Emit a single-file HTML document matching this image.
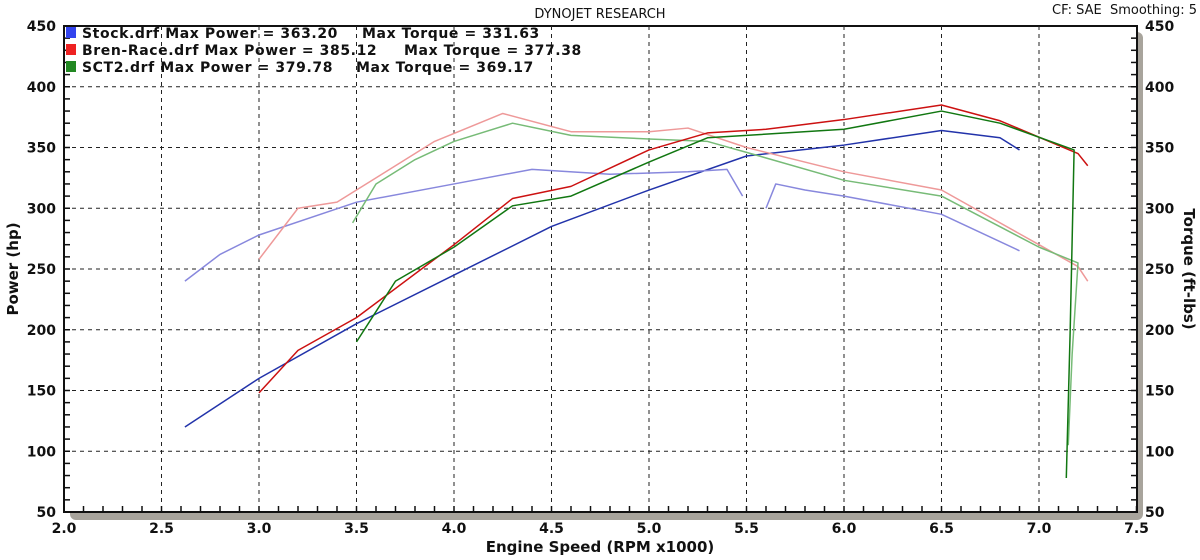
<!DOCTYPE html><html><head><style>
body{margin:0;background:#fff;width:1200px;height:555px;overflow:hidden}
svg text{font-family:"DejaVu Sans","Liberation Sans",sans-serif;font-weight:bold;fill:#111}
</style></head><body>
<svg id="s" width="1200" height="555" xmlns="http://www.w3.org/2000/svg">
<rect x="70" y="32" width="1073" height="488" fill="#a8a49c" rx="6"/>
<rect x="64" y="26" width="1073" height="486" fill="#fff" stroke="#111" stroke-width="2"/>
<g id="grid" stroke="#222" stroke-width="1" stroke-dasharray="4,4"></g>
<g id="ticks" stroke="#111" stroke-width="1.5"></g>
<g id="lab" font-size="14"></g>
<g id="curves" fill="none" stroke-width="1.5" stroke-linejoin="round"></g>
<text x="600" y="18" font-size="13" text-anchor="middle" style="font-weight:normal">DYNOJET RESEARCH</text>
<text x="1197" y="14" font-size="13" text-anchor="end" style="font-weight:normal;white-space:pre">CF: SAE  Smoothing: 5</text>
<text x="600" y="552" font-size="15" text-anchor="middle">Engine Speed (RPM x1000)</text>
<text transform="translate(18,269) rotate(-90)" font-size="15" text-anchor="middle">Power (hp)</text>
<text transform="translate(1184,269) rotate(90)" font-size="15" text-anchor="middle">Torque (ft-lbs)</text>
<g font-size="14" style="letter-spacing:0.6px">
<rect x="66" y="27" width="10" height="11" fill="#3344ee"/><text x="82" y="38">Stock.drf Max Power = 363.20</text><text x="362" y="38">Max Torque = 331.63</text>
<rect x="66" y="44" width="10" height="11" fill="#ee2222"/><text x="82" y="55">Bren-Race.drf Max Power = 385.12</text><text x="404" y="55">Max Torque = 377.38</text>
<rect x="66" y="61" width="10" height="11" fill="#228822"/><text x="82" y="72">SCT2.drf Max Power = 379.78</text><text x="356" y="72">Max Torque = 369.17</text>
</g>
</svg>
<script>
const X=r=>64+(r-2)*195, Y=v=>512-(v-50)*1.215;
const g=document.getElementById('grid'),t=document.getElementById('ticks'),l=document.getElementById('lab'),c=document.getElementById('curves');
const ns='http://www.w3.org/2000/svg';
function el(p,n,a,txt){const e=document.createElementNS(ns,n);for(const k in a)e.setAttribute(k,a[k]);if(txt!==undefined)e.textContent=txt;p.appendChild(e);return e}
for(let r=2.5;r<7.4;r+=0.5)el(g,'line',{x1:X(r),x2:X(r),y1:26,y2:512});
for(let v=100;v<450;v+=50)el(g,'line',{x1:64,x2:1137,y1:Y(v),y2:Y(v)});
for(let r=2;r<=7.5;r+=0.1)el(t,'line',{x1:X(r),x2:X(r),y1:506,y2:512});
for(let v=50;v<=450;v+=10){el(t,'line',{x1:64,x2:70,y1:Y(v),y2:Y(v)});el(t,'line',{x1:1131,x2:1137,y1:Y(v),y2:Y(v)});}
for(let r=2;r<=7.5;r+=0.5)el(l,'text',{x:X(r),y:533,'text-anchor':'middle'},r.toFixed(1));
for(let v=50;v<=450;v+=50){el(l,'text',{x:56,y:Y(v)+5,'text-anchor':'end'},v);el(l,'text',{x:1145,y:Y(v)+5},v);}
function P(d,col){el(c,'polyline',{points:d.map(p=>X(p[0])+','+Y(p[1])).join(' '),stroke:col});}
P([[2.62,120],[3.0,160],[3.5,205],[4.0,245],[4.5,285],[5.0,315],[5.5,343],[6.0,352],[6.5,364],[6.8,358],[6.9,348]],'#2233aa');
P([[2.62,240],[2.8,262],[3.0,278],[3.5,305],[4.0,320],[4.4,332],[4.8,328],[5.2,330],[5.4,332],[5.48,310]],'#8888dd');
P([[5.6,300],[5.65,320],[5.8,315],[6.0,310],[6.5,295],[6.9,265]],'#8888dd');
P([[3.0,258],[3.2,300],[3.4,305],[3.6,325],[3.9,355],[4.25,378],[4.6,363],[5.0,363],[5.2,366],[5.5,350],[6.0,330],[6.5,315],[7.0,270],[7.2,252],[7.25,240]],'#ee9999');
P([[3.48,288],[3.6,320],[3.8,340],[4.0,355],[4.3,370],[4.6,360],[5.0,357],[5.3,355],[5.5,346],[6.0,323],[6.5,310],[7.0,268],[7.2,255],[7.17,180],[7.15,105]],'#77bb77');
P([[3.0,148],[3.2,183],[3.5,210],[4.0,270],[4.3,308],[4.6,318],[5.0,348],[5.3,362],[5.6,365],[6.0,373],[6.5,385],[6.8,372],[7.2,345],[7.25,335]],'#cc1111');
P([[3.5,190],[3.7,240],[4.0,268],[4.3,302],[4.6,310],[5.0,338],[5.3,358],[6.0,365],[6.5,380],[6.8,370],[7.18,348],[7.16,200],[7.14,78]],'#117711');
</script>
</body></html>
